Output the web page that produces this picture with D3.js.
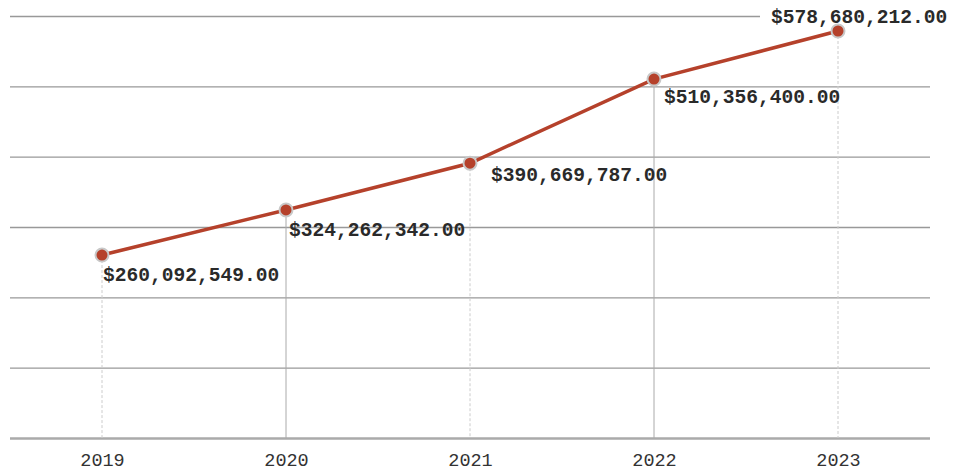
<!DOCTYPE html>
<html>
<head>
<meta charset="utf-8">
<script src="https://cdn.jsdelivr.net/npm/d3@7"></script>
<style>
  body { margin: 0; background: #fff; }
  svg { display: block; }
  .grid line { stroke: #999; stroke-width: 1.3; }
  .grid .domain { display: none; }
  .x.axis .domain { display: none; }
  .x.axis line { display: none; }
  .x.axis text { font-family: "Liberation Mono", "Courier New", monospace; font-size: 18.5px; fill: #333; }
  .label { font-family: "Liberation Mono", "Courier New", monospace; font-size: 19.6px; font-weight: bold; fill: #2a2a2a; }
</style>
</head>
<body>
<script>
let years = ['2019', '2020', '2021', '2022', '2023'];
let revenue = [260092549, 324262342, 390669787, 510356400, 578680212];
let yTicks = [0, 100e6, 200e6, 300e6, 400e6, 500e6, 600e6];

let width = 959;
let height = 472;
let margin = { top: 16, right: 29, bottom: 34, left: 10 };

// label nudges relative to each point (layout only)
let labelNudge = [[1, 26], [3, 26], [21, 18], [10, 24], [-67, -8]];

let data = years.map(function(y, i) { return { year: y, value: revenue[i] }; });

let svg = d3.select('body').append('svg')
    .attr('width', width)
    .attr('height', height);

let x = d3.scalePoint()
    .domain(years)
    .range([margin.left, width - margin.right])
    .padding(0.5);

let y = d3.scaleLinear()
    .domain([0, 600e6])
    .range([height - margin.bottom, margin.top]);

let fmt = d3.format('$,.2f');

// horizontal grid
svg.append('g')
    .attr('class', 'grid')
    .attr('transform', 'translate(' + margin.left + ',0)')
    .call(d3.axisRight(y).tickValues(yTicks).tickSize(width - margin.left - margin.right).tickFormat(''))
  .selectAll('line')
    .attr('x2', function(d) { return d === 600e6 ? 750 : width - margin.left - margin.right; })
    .style('stroke', function(d) { return d === 0 ? '#aaa' : null; })
    .style('stroke-width', function(d) { return d === 0 ? 2.5 : null; });

// drop lines from each point to the baseline
svg.append('g').selectAll('line')
  .data(data)
  .enter().append('line')
    .attr('x1', function(d) { return x(d.year); })
    .attr('x2', function(d) { return x(d.year); })
    .attr('y1', function(d) { return y(d.value); })
    .attr('y2', y(0))
    .attr('stroke', function(d, i) { return i % 2 ? '#aaa' : '#ccc'; })
    .attr('stroke-width', 1)
    .attr('stroke-dasharray', function(d, i) { return i % 2 ? null : '3,2'; });

// x axis
svg.append('g')
    .attr('class', 'x axis')
    .attr('transform', 'translate(0,' + y(0) + ')')
    .call(d3.axisBottom(x).tickSize(0).tickPadding(15));

let line = d3.line()
  .x(function(d) { return x(d.year); })
  .y(function(d) { return y(d.value); });

svg.append('path')
    .datum(data)
    .attr('fill', 'none')
    .attr('stroke', '#b5412b')
    .attr('stroke-width', 3.5)
    .attr('d', line);

svg.append('g').selectAll('circle')
  .data(data)
  .enter().append('circle')
    .attr('cx', function(d) { return x(d.year); })
    .attr('cy', function(d) { return y(d.value); })
    .attr('r', 6.5)
    .attr('fill', '#b5412b')
    .attr('stroke', '#c8c8c8')
    .attr('stroke-width', 2);

svg.append('g').selectAll('text')
  .data(data)
  .enter().append('text')
    .attr('class', 'label')
    .attr('x', function(d, i) { return x(d.year) + labelNudge[i][0]; })
    .attr('y', function(d, i) { return y(d.value) + labelNudge[i][1]; })
    .text(function(d) { return fmt(d.value); });
</script>
</body>
</html>
